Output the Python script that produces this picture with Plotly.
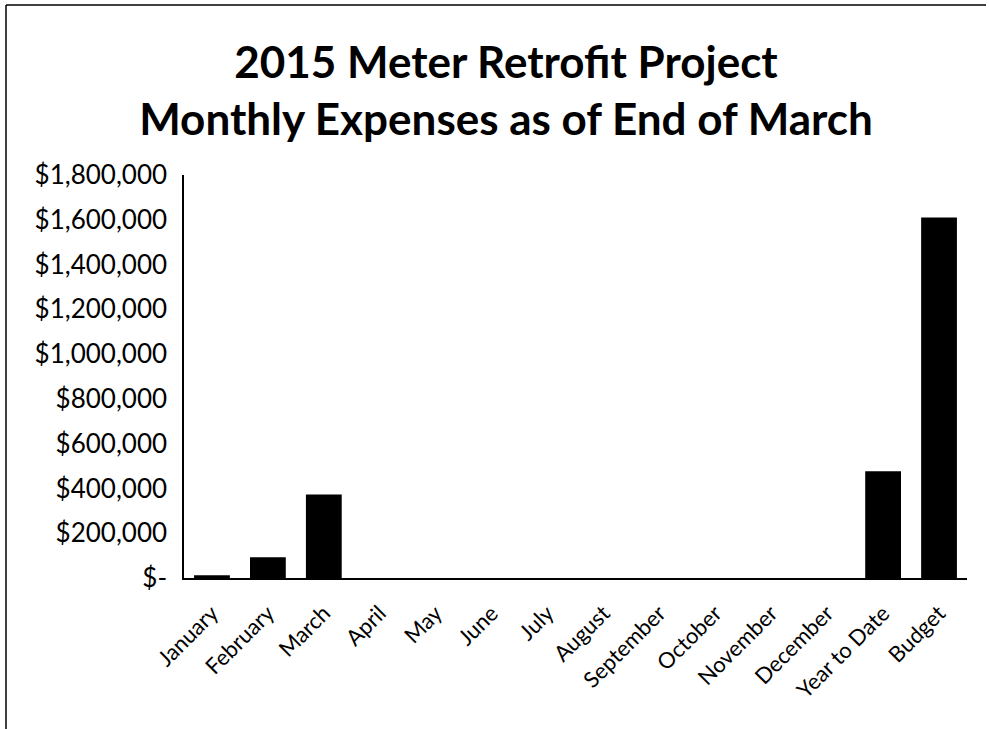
import plotly.graph_objects as go

categories = ["January", "February", "March", "April", "May", "June", "July",
              "August", "September", "October", "November", "December",
              "Year to Date", "Budget"]
expenses = [12000, 93000, 373000, 0, 0, 0, 0, 0, 0, 0, 0, 0, 477000, 1610000]
tick_vals = [0, 200000, 400000, 600000, 800000, 1000000, 1200000, 1400000, 1600000, 1800000]
tick_text = ["$-", "$200,000", "$400,000", "$600,000", "$800,000", "$1,000,000",
             "$1,200,000", "$1,400,000", "$1,600,000", "$1,800,000"]

W, H = 989, 729
L, R, T, B = 184, 967, 175, 578

fig = go.Figure(go.Bar(x=categories, y=expenses, marker=dict(color="black", line=dict(width=0))))

fig.update_layout(
    width=W, height=H,
    margin=dict(l=L, r=W - R, t=T, b=H - B),
    paper_bgcolor="white", plot_bgcolor="white",
    bargap=0.36,
    showlegend=False,
    font=dict(family="Lato", color="black"),
    title=dict(text="2015 Meter Retrofit Project<br>Monthly Expenses as of End of March",
               x=506 / W, xanchor="center", xref="container",
               y=1 - 77.5 / H, yanchor="middle", yref="container",
               font=dict(family="Lato", size=44, color="black", weight="bold")),
    xaxis=dict(tickangle=-45, tickfont=dict(size=22, color="black"),
               showline=True, linecolor="black", linewidth=1.5,
               showgrid=False, ticks="", ticklen=0, ticklabelstandoff=12),
    yaxis=dict(range=[0, 1800000], tickvals=tick_vals, ticktext=tick_text,
               tickfont=dict(size=26, color="black"),
               showline=True, linecolor="black", linewidth=1.5,
               showgrid=False, zeroline=False, ticks="", ticklabelstandoff=10),
)

pw, ph = R - L, B - T
def px(x):
    return (x - L) / pw
def py(y):
    return (B - y) / ph

# scanned frame: left and top edges only
fig.add_shape(type="line", xref="paper", yref="paper",
              x0=px(6), x1=px(6), y0=py(729), y1=py(5),
              line=dict(color="black", width=1.5), layer="above")
fig.add_shape(type="line", xref="paper", yref="paper",
              x0=px(6), x1=px(986), y0=py(5), y1=py(5),
              line=dict(color="black", width=1.5), layer="above")

fig.write_html("out.html", config={"displayModeBar": False},
               post_script="document.body.style.margin='0';document.body.style.overflow='hidden';")
